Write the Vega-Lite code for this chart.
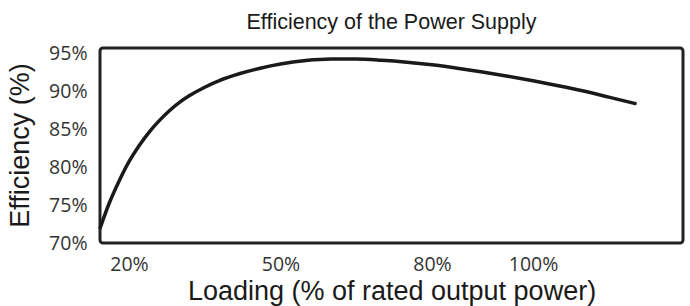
{
  "$schema": "https://vega.github.io/schema/vega-lite/v6.json",
  "autosize": {"type": "none"},
  "padding": {"left": 100, "top": 48, "right": 7, "bottom": 63},
  "width": 583,
  "height": 195,
  "background": "white",
  "title": {
    "text": "Efficiency of the Power Supply",
    "font": "Liberation Sans",
    "fontSize": 21.5,
    "fontWeight": "normal",
    "color": "#1a1a1a",
    "anchor": "middle",
    "offset": 10
  },
  "config": {
    "view": {"stroke": "#222", "strokeWidth": 3, "cornerRadius": 3},
    "axis": {
      "grid": false,
      "domain": false,
      "ticks": false,
      "labelFont": "Open Sans",
      "labelFontSize": 19.5,
      "labelColor": "#333",
      "titleFont": "Liberation Sans",
      "titleFontSize": 27,
      "titleFontWeight": "normal",
      "titleColor": "#1a1a1a"
    }
  },
  "data": {
    "values": [
      {"loading": 14.3, "efficiency": 72.0},
      {"loading": 16, "efficiency": 75.1},
      {"loading": 18, "efficiency": 78.1},
      {"loading": 20, "efficiency": 80.7},
      {"loading": 22, "efficiency": 82.8},
      {"loading": 24, "efficiency": 84.6},
      {"loading": 26, "efficiency": 86.1},
      {"loading": 28, "efficiency": 87.4},
      {"loading": 30, "efficiency": 88.5},
      {"loading": 32, "efficiency": 89.4},
      {"loading": 35, "efficiency": 90.5},
      {"loading": 38, "efficiency": 91.4},
      {"loading": 42, "efficiency": 92.3},
      {"loading": 46, "efficiency": 93.0},
      {"loading": 50, "efficiency": 93.55},
      {"loading": 55, "efficiency": 94.0},
      {"loading": 60, "efficiency": 94.2},
      {"loading": 65, "efficiency": 94.2},
      {"loading": 70, "efficiency": 94.05},
      {"loading": 75, "efficiency": 93.8},
      {"loading": 80, "efficiency": 93.45},
      {"loading": 85, "efficiency": 93.0},
      {"loading": 90, "efficiency": 92.5},
      {"loading": 95, "efficiency": 91.95},
      {"loading": 100, "efficiency": 91.35},
      {"loading": 105, "efficiency": 90.7},
      {"loading": 110, "efficiency": 90.0},
      {"loading": 115, "efficiency": 89.2},
      {"loading": 120.2, "efficiency": 88.35}
    ]
  },
  "mark": {"type": "line", "interpolate": "monotone", "color": "#1a1a1a", "strokeWidth": 3.5, "strokeCap": "round"},
  "encoding": {
    "x": {
      "field": "loading",
      "type": "quantitative",
      "scale": {"domain": [14.26, 129.7], "nice": false, "zero": false},
      "axis": {
        "values": [20, 50, 80, 100],
        "labelExpr": "datum.value + '%'",
        "labelPadding": 12,
        "title": "Loading (% of rated output power)",
        "titleY": 56,
        "titleBaseline": "alphabetic"
      }
    },
    "y": {
      "field": "efficiency",
      "type": "quantitative",
      "scale": {"domain": [70, 95.66], "nice": false, "zero": false},
      "axis": {
        "values": [70, 75, 80, 85, 90, 95],
        "labelExpr": "datum.value + '%'",
        "labelPadding": 13,
        "title": "Efficiency (%)",
        "titleX": -80,
        "titleY": 97,
        "titleBaseline": "middle"
      }
    }
  }
}
